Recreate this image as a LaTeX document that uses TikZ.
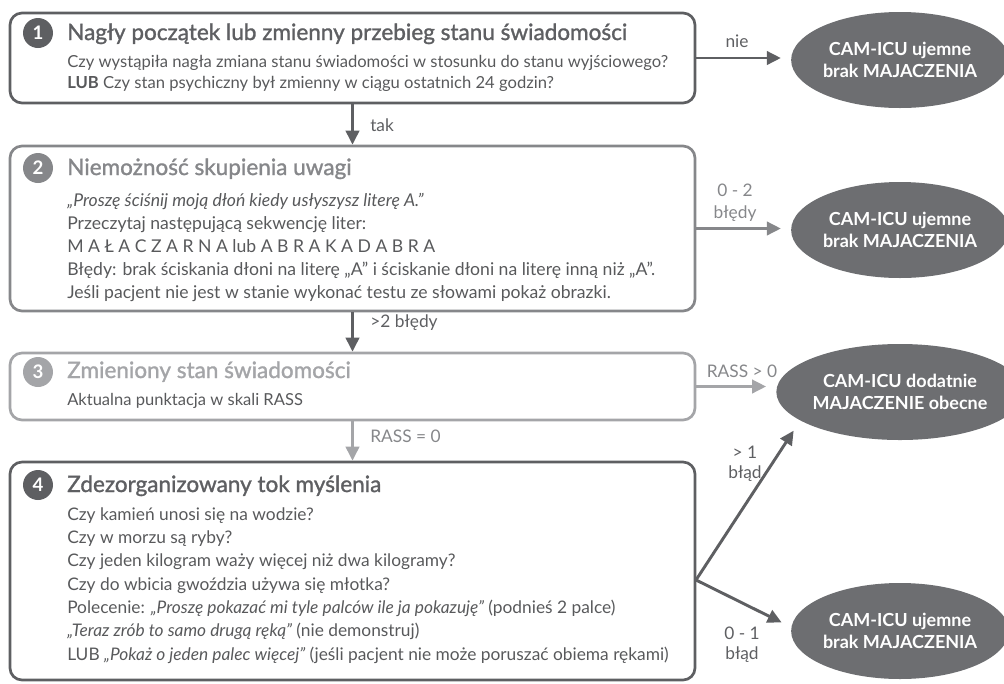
\documentclass[tikz,border=0pt]{standalone}
\usepackage{fontspec}
\setmainfont{Lato}
\newfontfamily\titlefont{Lato}[FakeBold=1.3]
\usetikzlibrary{arrows.meta,positioning,shapes.geometric}
\definecolor{inkdark}{HTML}{5E5F62}
\definecolor{inkmid}{HTML}{86878A}
\definecolor{inklight}{HTML}{A4A5A8}
\definecolor{bodyink}{HTML}{58595B}
\definecolor{ovalfill}{HTML}{6D6E71}
\tikzset{
  stepbox/.style={draw=#1,line width=2pt,rounded corners=9pt,
                  minimum width=513.75pt,inner sep=0pt},
  stepnum/.style={circle,fill=#1,text=white,minimum size=22.5pt,inner sep=0pt,
                  font=\fontsize{14}{14}\selectfont\bfseries},
  steptitle/.style={anchor=base west,inner sep=0pt,text=#1,
                    font=\titlefont\fontsize{16.9}{20}\selectfont},
  stepbody/.style={anchor=base west,inner sep=0pt,align=left,text=bodyink},
  result/.style={ellipse,fill=ovalfill,text=white,minimum width=153pt,
                 minimum height=72pt,inner sep=0pt,align=center,
                 font=\fontsize{13.5}{16}\selectfont\bfseries},
  flow/.style={-{Triangle[length=10.5pt,width=10pt]},line width=2.2pt,draw=#1},
  flowlabel/.style={anchor=base,inner sep=0pt,align=center,text=#1,
                    font=\fontsize{13}{15}\selectfont}
}
\begin{document}
\begin{tikzpicture}[x=0.75pt,y=-0.75pt]
  \path[use as bounding box] (0,0) rectangle (1004,683);

  \node[stepbox=inkdark,minimum height=67.5pt] (box1) at (352.5,58) {};
  \node[stepnum=inkdark] (num1) at (38,33) {1};
  \node[steptitle=inkdark] (title1) at (67,40)
    {Nagły początek lub zmienny przebieg stanu świadomości};
  \node[stepbody,font=\fontsize{12.45}{15.75}\selectfont] (body1) at (67,88)
    {Czy wystąpiła nagła zmiana stanu świadomości w stosunku do stanu wyjściowego?\\
     \textbf{LUB} Czy stan psychiczny był zmienny w ciągu ostatnich 24 godzin?};

  \node[stepbox=inkmid,minimum height=123.75pt] (box2) at (352.5,228.5) {};
  \node[stepnum=inkmid] (num2) at (38,168) {2};
  \node[steptitle=inkmid] (title2) at (67,175) {Niemożność skupienia uwagi};
  \node[stepbody,font=\fontsize{13.2}{17.25}\selectfont] (body2) at (67,298)
    {\textit{„Proszę ściśnij moją dłoń kiedy usłyszysz literę A.”}\\
     Przeczytaj następującą sekwencję liter:\\
     M A Ł A C Z A R N A lub A B R A K A D A B R A\\
     Błędy: brak ściskania dłoni na literę „A” i ściskanie dłoni na literę inną niż „A”.\\
     Jeśli pacjent nie jest w stanie wykonać testu ze słowami pokaż obrazki.};

  \node[stepbox=inklight,minimum height=50.25pt] (box3) at (352.5,386.5) {};
  \node[stepnum=inklight] (num3) at (38,372) {3};
  \node[steptitle=inklight] (title3) at (67,378) {Zmieniony stan świadomości};
  \node[stepbody,font=\fontsize{12.4}{15}\selectfont] (body3) at (67,405)
    {Aktualna punktacja w skali RASS};

  \node[stepbox=inkdark,minimum height=163.5pt] (box4) at (352.5,571) {};
  \node[stepnum=inkdark] (num4) at (38,485) {4};
  \node[steptitle=inkdark] (title4) at (67,492) {Zdezorganizowany tok myślenia};
  \node[stepbody,font=\fontsize{13}{17.5}\selectfont] (body4) at (67,660)
    {Czy kamień unosi się na wodzie?\\
     Czy w morzu są ryby?\\
     Czy jeden kilogram waży więcej niż dwa kilogramy?\\
     Czy do wbicia gwoździa używa się młotka?\\
     Polecenie: \textit{„Proszę pokazać mi tyle palców ile ja pokazuję”} (podnieś 2 palce)\\
     \textit{„Teraz zrób to samo drugą ręką”} (nie demonstruj)\\
     LUB \textit{„Pokaż o jeden palec więcej”} (jeśli pacjent nie może poruszać obiema rękami)};

  \node[result] (cam1) at (900,60) {CAM-ICU ujemne\\brak MAJACZENIA};
  \node[result] (cam2) at (900,230) {CAM-ICU ujemne\\brak MAJACZENIA};
  \node[result] (cam3) at (900,392) {CAM-ICU dodatnie\\MAJACZENIE obecne};
  \node[result] (cam4) at (900,631) {CAM-ICU ujemne\\brak MAJACZENIA};

  \draw[flow=inkdark] (box1) -- (box2);
  \draw[flow=inkdark] (box2) -- (box3);
  \draw[flow=inklight] (box3) -- (box4);
  \node[flowlabel=inkdark,anchor=base west] (tak) at (370,131) {tak};
  \node[flowlabel=inkdark,anchor=base west] (bledy) at (370,327) {>2 błędy};
  \node[flowlabel=inkmid,anchor=base west] (rasszero) at (370,442) {RASS = 0};

  \draw[flow=inkdark,shorten >=7.5pt] (box1.east) -- (box1.east -| cam1.west);
  \draw[flow=inkmid,shorten >=7.5pt] (box2.east) -- (box2.east -| cam2.west);
  \draw[flow=inklight,shorten >=7.5pt] (box3.east) -- (box3.east -| cam3.west);
  \node[flowlabel=inkdark] (nie) at (737,47) {nie};
  \node[flowlabel=inkmid,font=\fontsize{13}{16.5}\selectfont] (zerodwa) at (735,218)
    {0 - 2\\błędy};
  \node[flowlabel=inkmid] (rassplus) at (742,377) {RASS > 0};

  \coordinate (fork) at (696,580);
  \draw[flow=inkdark,shorten >=9pt] (fork) -- (cam3.196);
  \draw[flow=inkdark,shorten >=8pt] (fork) -- (cam4.178);
  \node[flowlabel=inkdark] (jedenplus) at (745,478) {> 1\\błąd};
  \node[flowlabel=inkdark] (zerojeden) at (742,659) {0 - 1\\błąd};
\end{tikzpicture}
\end{document}
